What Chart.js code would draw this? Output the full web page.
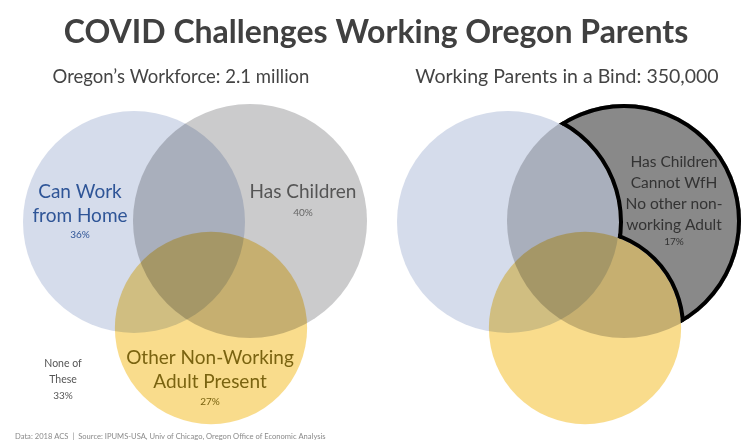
<!DOCTYPE html>
<html>
<head>
<meta charset="utf-8">
<script src="https://cdn.jsdelivr.net/npm/chart.js@4.4.0/dist/chart.umd.min.js"></script>
<style>
  html, body { margin: 0; padding: 0; background: #fff; }
  #wrap { width: 752px; height: 447px; }
</style>
</head>
<body>
<div id="wrap"><canvas id="venn" width="752" height="447"></canvas></div>
<script>
// Shares of Oregon's workforce (percent)
const setNames = ["Can Work from Home", "Has Children", "Other Non-Working Adult Present"];
const setShares = [36, 40, 27];
const noneShare = 33;
const bindShare = 17;
const panelTitles = ["Oregon\u2019s Workforce: 2.1 million", "Working Parents in a Bind: 350,000"];
const chartTitle = "COVID Challenges Working Oregon Parents";
const footNote = "Data: 2018 ACS  |  Source: IPUMS-USA, Univ of Chicago, Oregon Office of Economic Analysis";

// circle layout in canvas units, one entry per set; second panel is shifted right
const centerX = [134, 250, 211];
const centerY = [222, 221, 328];
const panelShift = [0, 374];
const radiusPerRootShare = 18.5;   // circle area follows the share
const fills = ["rgb(213,220,235)", "rgb(203,203,204)", "rgb(249,220,140)"];
const FONT = "Lato, 'Open Sans', sans-serif";

const datasets = setNames.map((name, i) => ({
  label: name,
  data: panelShift.map(dx => ({
    x: centerX[i] + dx,
    y: centerY[i],
    r: radiusPerRootShare * Math.sqrt(setShares[i])
  })),
  backgroundColor: fills[i],
  borderWidth: 0,
  clip: false
}));

function circleOf(chart, d, p) {
  const el = chart.getDatasetMeta(d).data[p];
  return { x: el.x, y: el.y, r: el.options.radius };
}

function text(ctx, str, x, y, font, color, align) {
  ctx.font = font;
  ctx.fillStyle = color;
  ctx.textAlign = align || "center";
  ctx.textBaseline = "middle";
  ctx.fillText(str, x, y);
}

const vennPlugin = {
  id: "venn",
  beforeDraw(chart) {
    const ctx = chart.ctx;
    ctx.save();
    ctx.fillStyle = "#fff";
    ctx.fillRect(0, 0, chart.width, chart.height);
    ctx.restore();
  },
  beforeDatasetsDraw(chart) {
    chart.ctx.save();
    chart.ctx.globalCompositeOperation = "multiply";
  },
  afterDatasetsDraw(chart) {
    const ctx = chart.ctx;
    ctx.restore();
    const sx = v => chart.scales.x.getPixelForValue(v);
    const sy = v => chart.scales.y.getPixelForValue(v);

    // right panel: parents with children, no WfH, no other adult at home
    const blue = circleOf(chart, 0, 1), gray = circleOf(chart, 1, 1), gold = circleOf(chart, 2, 1);
    ctx.save();
    ctx.beginPath();
    ctx.arc(gray.x, gray.y, gray.r, 0, Math.PI * 2);
    ctx.clip();
    [blue, gold].forEach(c => {
      ctx.beginPath();
      ctx.rect(0, 0, chart.width, chart.height);
      ctx.arc(c.x, c.y, c.r, 0, Math.PI * 2, true);
      ctx.clip("evenodd");
    });
    ctx.fillStyle = "#898989";
    ctx.fillRect(0, 0, chart.width, chart.height);
    ctx.strokeStyle = "#000";
    ctx.lineWidth = 8;
    [gray, blue, gold].forEach(c => {
      ctx.beginPath();
      ctx.arc(c.x, c.y, c.r, 0, Math.PI * 2);
      ctx.stroke();
    });
    ctx.restore();

    // titles
    text(ctx, chartTitle, sx(376), sy(33), "bold 32px " + FONT, "#404040");
    text(ctx, panelTitles[0], sx(181), sy(77), "18.5px " + FONT, "#444");
    text(ctx, panelTitles[1], sx(567), sy(77), "19.5px " + FONT, "#444");

    // left panel labels
    const big = "19px " + FONT, small = "10px " + FONT;
    text(ctx, "Can Work", sx(80), sy(192), big, "#2f5597");
    text(ctx, "from Home", sx(80), sy(216), big, "#2f5597");
    text(ctx, setShares[0] + "%", sx(80), sy(235), small, "#2f5597");
    text(ctx, "Has Children", sx(303), sy(192), big, "#555");
    text(ctx, setShares[1] + "%", sx(303), sy(213), small, "#666");
    text(ctx, "Other Non-Working", sx(210), sy(358), big, "#7a6310");
    text(ctx, "Adult Present", sx(210), sy(382), big, "#7a6310");
    text(ctx, setShares[2] + "%", sx(210), sy(402), small, "#7a6310");
    const tiny = "10.5px " + FONT;
    text(ctx, "None of", sx(63), sy(364), tiny, "#555");
    text(ctx, "These", sx(63), sy(380), tiny, "#555");
    text(ctx, noneShare + "%", sx(63), sy(396), small, "#555");

    // right panel label
    const mid = "15.5px " + FONT;
    ["Has Children", "Cannot WfH", "No other non-", "working Adult"].forEach((s, i) =>
      text(ctx, s, sx(674), sy(162 + i * 21), mid, "#333"));
    text(ctx, bindShare + "%", sx(674), sy(242), small, "#333");

    text(ctx, footNote, sx(15), sy(437), "7.6px " + FONT, "#8a8a8a", "left");
  }
};

new Chart(document.getElementById("venn"), {
  type: "bubble",
  data: { datasets },
  options: {
    responsive: false,
    animation: false,
    events: [],
    layout: { padding: 0, autoPadding: false },
    plugins: { legend: { display: false }, tooltip: { enabled: false } },
    scales: {
      x: { type: "linear", min: 0, max: 752, display: false },
      y: { type: "linear", min: 0, max: 447, reverse: true, display: false }
    }
  },
  plugins: [vennPlugin]
});
</script>
</body>
</html>
